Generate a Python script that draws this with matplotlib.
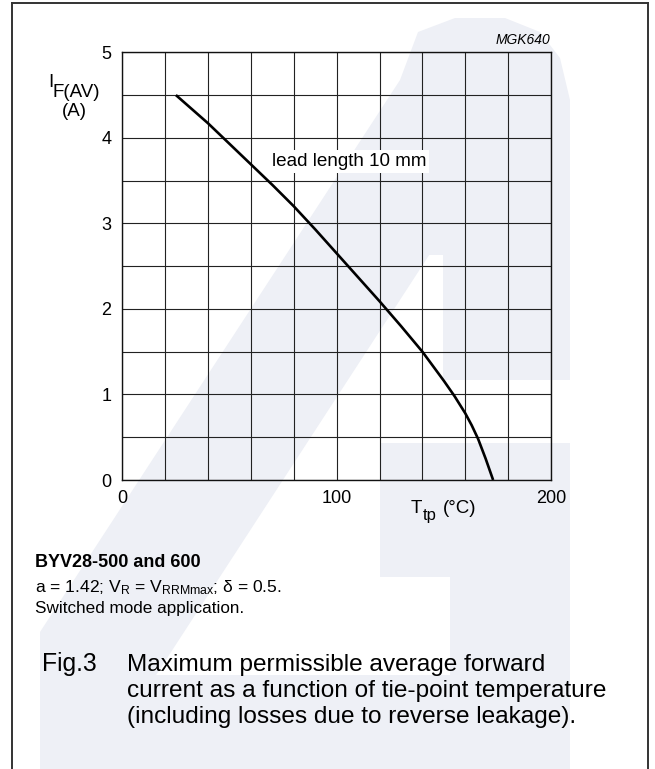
import matplotlib
matplotlib.use("Agg")
import matplotlib.pyplot as plt
from matplotlib.patches import Polygon
from matplotlib.lines import Line2D
from matplotlib.ticker import MultipleLocator, FixedLocator

# derating curve, lead length 10 mm
t_tp = [25, 40, 60, 70, 80, 90, 100, 110, 120, 130, 140, 150, 155, 160, 163, 166, 169.5, 173]
i_fav = [4.5, 4.17, 3.69, 3.45, 3.20, 2.93, 2.65, 2.37, 2.09, 1.80, 1.50, 1.16,
         0.98, 0.78, 0.64, 0.48, 0.25, 0.0]

x_ticks = [0, 100, 200]
y_ticks = [0, 1, 2, 3, 4, 5]

W, H = 655, 769
FONT = "Liberation Sans"
plt.rcParams["font.family"] = [FONT, "DejaVu Sans"]
plt.rcParams["mathtext.fontset"] = "custom"
plt.rcParams["mathtext.rm"] = FONT
plt.rcParams["mathtext.it"] = FONT + ":italic"

fig = plt.figure(figsize=(W / 100, H / 100), dpi=100)


def fx(x):
    return x / W


def fy(y):
    return 1 - y / H


def put(x, y, s, size, **kw):
    kw.setdefault("ha", "left")
    return fig.text(fx(x), fy(y), s, fontsize=size, va="baseline", **kw)


# pale background logo
logo = "#eef0f6"
shapes = [
    [(400, 80), (543, 80), (95, 769), (40, 769), (40, 632)],
    [(400, 80), (418, 32), (455, 18), (505, 18), (540, 32), (560, 58),
     (570, 100), (570, 380), (443, 380), (443, 255), (429, 255)],
    [(380, 443), (570, 443), (570, 769), (450, 769), (450, 577), (380, 577)],
    [(40, 675), (570, 675), (570, 769), (40, 769)],
]
for pts in shapes:
    fig.patches.append(Polygon([(fx(x), fy(y)) for x, y in pts], closed=True,
                               transform=fig.transFigure, facecolor=logo,
                               edgecolor="none", zorder=-5))

# frame round the sheet (open at the bottom)
frame = dict(color="#333333", lw=1.4, transform=fig.transFigure)
fig.lines.append(Line2D([fx(11.5), fx(11.5)], [0, fy(3)], **frame))
fig.lines.append(Line2D([fx(11.5), fx(648)], [fy(3), fy(3)], **frame))
fig.lines.append(Line2D([fx(648), fx(648)], [fy(3), 0], **frame))

ax = fig.add_axes([fx(122.3), fy(480), fx(551) - fx(122.3), fy(52.3) - fy(480)])
ax.set_facecolor("none")
ax.set_xlim(0, 200)
ax.set_ylim(0, 5)

ax.xaxis.set_major_locator(FixedLocator(x_ticks))
ax.yaxis.set_major_locator(FixedLocator(y_ticks))
ax.xaxis.set_minor_locator(MultipleLocator(20))
ax.yaxis.set_minor_locator(MultipleLocator(0.5))
ax.grid(which="both", color="#222222", lw=0.8)
ax.tick_params(which="both", length=0, labelsize=13)
ax.tick_params(axis="x", pad=7)
ax.tick_params(axis="y", pad=8)
for s in ax.spines.values():
    s.set_linewidth(1.0)
    s.set_color("#111111")

ax.plot(t_tp, i_fav, color="black", lw=1.9, solid_capstyle="butt",
        solid_joinstyle="round", zorder=4)

ax.text(fx(272), fy(166), "lead length 10 mm", transform=fig.transFigure,
        fontsize=13.6, va="baseline", ha="left", zorder=3,
        bbox=dict(facecolor="white", edgecolor="none", pad=2))

put(550, 44, "MGK640", 10, style="italic", ha="right")

# axis titles
put(48, 87, "I", 13.5)
put(53, 97, "F(AV)", 13.5)
put(74, 116, "(A)", 13.5, ha="center")

put(411, 513, "T", 13.5)
put(423, 520, "tp", 12)
put(443, 513, "(°C)", 13.5)

# notes below the graph
put(35, 567, "BYV28-500 and 600", 13, weight="bold")
put(35, 592, r"a = 1.42; V$_{\mathrm{R}}$ = V$_{\mathrm{RRMmax}}$; δ = 0.5.", 12.6)
put(35, 613, "Switched mode application.", 12.3)

put(42, 671, "Fig.3", 17.8)
caption = [
    "Maximum permissible average forward",
    "current as a function of tie-point temperature",
    "(including losses due to reverse leakage).",
]
for k, line in enumerate(caption):
    put(127, 671 + 26 * k, line, 17.6)

fig.savefig("out.png", dpi=100)
